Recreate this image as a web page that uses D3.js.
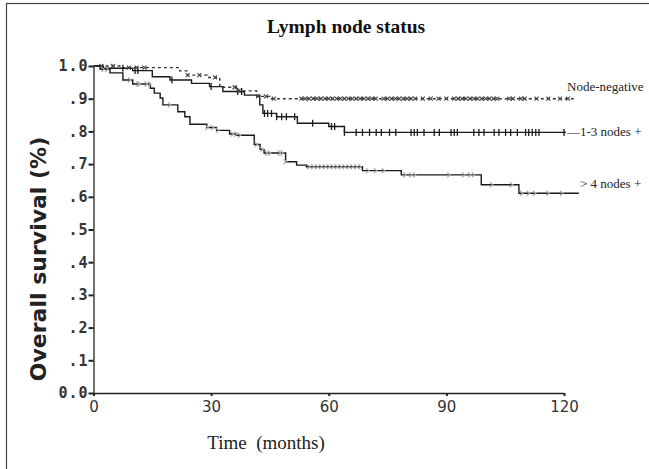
<!DOCTYPE html>
<html>
<head>
<meta charset="utf-8">
<script src="https://cdn.jsdelivr.net/npm/d3@7"></script>
<style>
  body { margin: 0; background: #fff; }
  svg { display: block; }
</style>
</head>
<body>
<div id="chart"></div>
<script>
// axis ticks
var timeTicks = [0, 30, 60, 90, 120];
var survTicks = [0, 0.1, 0.2, 0.3, 0.4, 0.5, 0.6, 0.7, 0.8, 0.9, 1.0];
var survTickLabels = ["0.0", ".1", ".2", ".3", ".4", ".5", ".6", ".7", ".8", ".9", "1.0"];

// Node-negative
var negTimes = [0, 7, 22, 24, 29, 32.2, 36.5, 41.6, 45];
var negSurv = [1.0, 0.995, 0.985, 0.972, 0.965, 0.935, 0.924, 0.907, 0.90];
var negEnd = 123;
var negCensor = [2, 5, 9, 11, 13, 24, 27, 31, 36, 37, 42, 44, 46, 53, 54, 55, 56, 57, 58, 59, 60, 61, 62, 63, 64, 65, 66, 67, 68, 69, 70, 71, 72, 74, 75, 76, 77, 78, 79, 80, 81, 82, 84, 86, 88, 90, 92, 93, 94, 95, 96, 97, 98, 99, 100, 101, 102, 103, 106, 107, 109, 110, 113, 116, 119, 121];

// 1-3 nodes +
var midTimes = [0, 2.5, 10, 15, 19.5, 25, 29.6, 33, 38.5, 42.4, 43.2, 46.7, 52, 60, 64];
var midSurv = [1.0, 0.993, 0.986, 0.967, 0.957, 0.947, 0.937, 0.922, 0.911, 0.881, 0.855, 0.845, 0.825, 0.815, 0.797];
var midEnd = 120.5;
var midCensor = [7.5, 10.6, 11.3, 20, 30, 36.8, 37.8, 43.6, 44.4, 45.4, 46.7, 48, 49.2, 51.3, 55.9, 60.7, 61.5, 64, 67, 68.6, 70.4, 72.1, 73.4, 75.5, 77.1, 81, 81.8, 82.6, 84.3, 86.9, 88.2, 91.2, 92, 92.8, 97, 98.3, 99.6, 102.2, 103.4, 105.1, 106.4, 108.1, 110.2, 111, 111.9, 112.8, 113.6, 120];

// > 4 nodes +
var highTimes = [0, 1.7, 4.2, 7.5, 10, 14.5, 15.5, 17, 17.7, 21.5, 23.3, 24.6, 28.9, 31.4, 34.7, 36.5, 41, 42.5, 43.5, 49, 51.8, 54.3, 68.6, 78.5, 98.9, 108.5];
var highSurv = [1.0, 0.99, 0.979, 0.957, 0.945, 0.932, 0.917, 0.902, 0.881, 0.86, 0.845, 0.822, 0.812, 0.803, 0.792, 0.788, 0.76, 0.745, 0.734, 0.707, 0.697, 0.692, 0.68, 0.667, 0.637, 0.611];
var highEnd = 123.8;
var highCensor = [2.5, 3.5, 9.3, 11.4, 11.8, 13.5, 14.4, 19.5, 29, 30.4, 31.7, 35.5, 36.4, 37.3, 41.6, 43, 44.2, 45, 47.5, 48.2, 49, 55, 56, 57, 58, 59, 60, 61, 62, 63, 64, 65, 66, 67, 68, 70, 72, 74, 79.5, 81, 82, 90.7, 94.5, 96, 97, 101.6, 106.7, 109.3, 111, 112.6, 116, 119.5];

var W = 649, H = 469;

var svg = d3.select("#chart").append("svg")
    .attr("width", W)
    .attr("height", H);

// outer frame
svg.append("rect")
    .attr("x", 6.5)
    .attr("y", 3.5)
    .attr("width", W + 10)
    .attr("height", H + 10)
    .attr("fill", "none")
    .attr("stroke", "#444")
    .attr("stroke-width", 1.2);

var x = d3.scaleLinear().domain([0, 120]).range([93.5, 564]);
var y = d3.scaleLinear().domain([0, 1]).range([393, 66]);

// survival value at time t for a step series
function survAt(times, surv, t) {
    var i = d3.bisectRight(times, t) - 1;
    return surv[Math.max(0, i)];
}

function stepPoints(times, surv, end) {
    var pts = times.map(function(t, i) { return [t, surv[i]]; });
    pts.push([end, surv[surv.length - 1]]);
    return pts;
}

var line = d3.line()
    .x(function(d) { return x(d[0]); })
    .y(function(d) { return y(d[1]); })
    .curve(d3.curveStepAfter);

// y axis
var yAxis = svg.append("g")
    .attr("transform", "translate(" + x(0) + ",0)")
    .call(d3.axisLeft(y)
        .tickValues(survTicks)
        .tickSize(5)
        .tickSizeOuter(0)
        .tickFormat(function(d, i) { return survTickLabels[i]; }));
yAxis.select(".domain").attr("stroke", "#222").attr("stroke-width", 1.3);
yAxis.selectAll(".tick line").attr("stroke", "#222").attr("stroke-width", 2);
yAxis.selectAll(".tick text")
    .attr("font-family", "DejaVu Sans Mono")
    .attr("font-weight", "bold")
    .attr("font-size", 15)
    .attr("letter-spacing", 1)
    .attr("fill", "#333")
    .attr("x", -5);

// x axis
var xAxis = svg.append("g")
    .attr("transform", "translate(0," + y(0) + ")")
    .call(d3.axisBottom(x)
        .tickValues(timeTicks)
        .tickSize(3)
        .tickSizeOuter(0));
xAxis.select(".domain").attr("stroke", "#222").attr("stroke-width", 1.3);
xAxis.selectAll(".tick line").attr("stroke", "#222").attr("stroke-width", 2);
xAxis.selectAll(".tick text")
    .attr("font-family", "DejaVu Sans")
    .attr("font-size", 15)
    .attr("fill", "#333")
    .attr("y", 8);

// curves
svg.append("path")
    .datum(stepPoints(highTimes, highSurv, highEnd))
    .attr("d", line)
    .attr("fill", "none")
    .attr("stroke", "#1a1a1a")
    .attr("stroke-width", 1.4);

svg.append("path")
    .datum(stepPoints(midTimes, midSurv, midEnd))
    .attr("d", line)
    .attr("fill", "none")
    .attr("stroke", "#1a1a1a")
    .attr("stroke-width", 1.4);

svg.append("path")
    .datum(stepPoints(negTimes, negSurv, negEnd))
    .attr("d", line)
    .attr("fill", "none")
    .attr("stroke", "#333")
    .attr("stroke-width", 1.4)
    .attr("stroke-dasharray", "3,3");

// censor marks
svg.append("g").selectAll("path")
    .data(highCensor)
    .join("path")
    .attr("d", function(t) {
        var cx = x(t), cy = y(survAt(highTimes, highSurv, t));
        return "M" + (cx - 2) + "," + (cy - 2.5) + "L" + (cx + 1) + "," + cy + "L" + (cx - 2) + "," + (cy + 2.5);
    })
    .attr("fill", "none")
    .attr("stroke", "#aaa")
    .attr("stroke-width", 1.2);

svg.append("g").selectAll("line")
    .data(midCensor)
    .join("line")
    .attr("x1", function(t) { return x(t); })
    .attr("x2", function(t) { return x(t); })
    .attr("y1", function(t) { return y(survAt(midTimes, midSurv, t)) - 3.5; })
    .attr("y2", function(t) { return y(survAt(midTimes, midSurv, t)) + 3.5; })
    .attr("stroke", "#1a1a1a")
    .attr("stroke-width", 1.3);

svg.append("g").selectAll("path")
    .data(negCensor)
    .join("path")
    .attr("d", function(t) {
        var cx = x(t), cy = y(survAt(negTimes, negSurv, t));
        return "M" + (cx - 2) + "," + (cy - 2) + "L" + (cx + 2) + "," + (cy + 2) +
               "M" + (cx + 2) + "," + (cy - 2) + "L" + (cx - 2) + "," + (cy + 2);
    })
    .attr("fill", "none")
    .attr("stroke", "#444")
    .attr("stroke-width", 1.1);

// curve labels
svg.append("text")
    .attr("x", 567).attr("y", 91)
    .attr("font-family", "Liberation Serif")
    .attr("font-size", 13)
    .attr("fill", "#222")
    .text("Node-negative");

svg.append("text")
    .attr("x", 567).attr("y", 136)
    .attr("font-family", "Liberation Serif")
    .attr("font-size", 13)
    .attr("fill", "#222")
    .text("\u20141-3 nodes +");

svg.append("text")
    .attr("x", 580).attr("y", 188)
    .attr("font-family", "Liberation Serif")
    .attr("font-size", 13)
    .attr("fill", "#222")
    .text("> 4 nodes +");

// titles
svg.append("text")
    .attr("x", 346).attr("y", 33)
    .attr("text-anchor", "middle")
    .attr("font-family", "Liberation Serif")
    .attr("font-weight", "bold")
    .attr("font-size", 19.5)
    .attr("fill", "#111")
    .text("Lymph node status");

svg.append("text")
    .attr("x", 266).attr("y", 449)
    .attr("text-anchor", "middle")
    .attr("font-family", "Liberation Serif")
    .attr("font-size", 19)
    .attr("fill", "#222")
    .style("white-space", "pre")
    .text("Time  (months)");

svg.append("text")
    .attr("transform", "translate(46,259)rotate(-90)")
    .attr("text-anchor", "middle")
    .attr("font-family", "DejaVu Sans")
    .attr("font-weight", "bold")
    .attr("font-size", 22)
    .attr("fill", "#222")
    .text("Overall survival (%)");
</script>
</body>
</html>
